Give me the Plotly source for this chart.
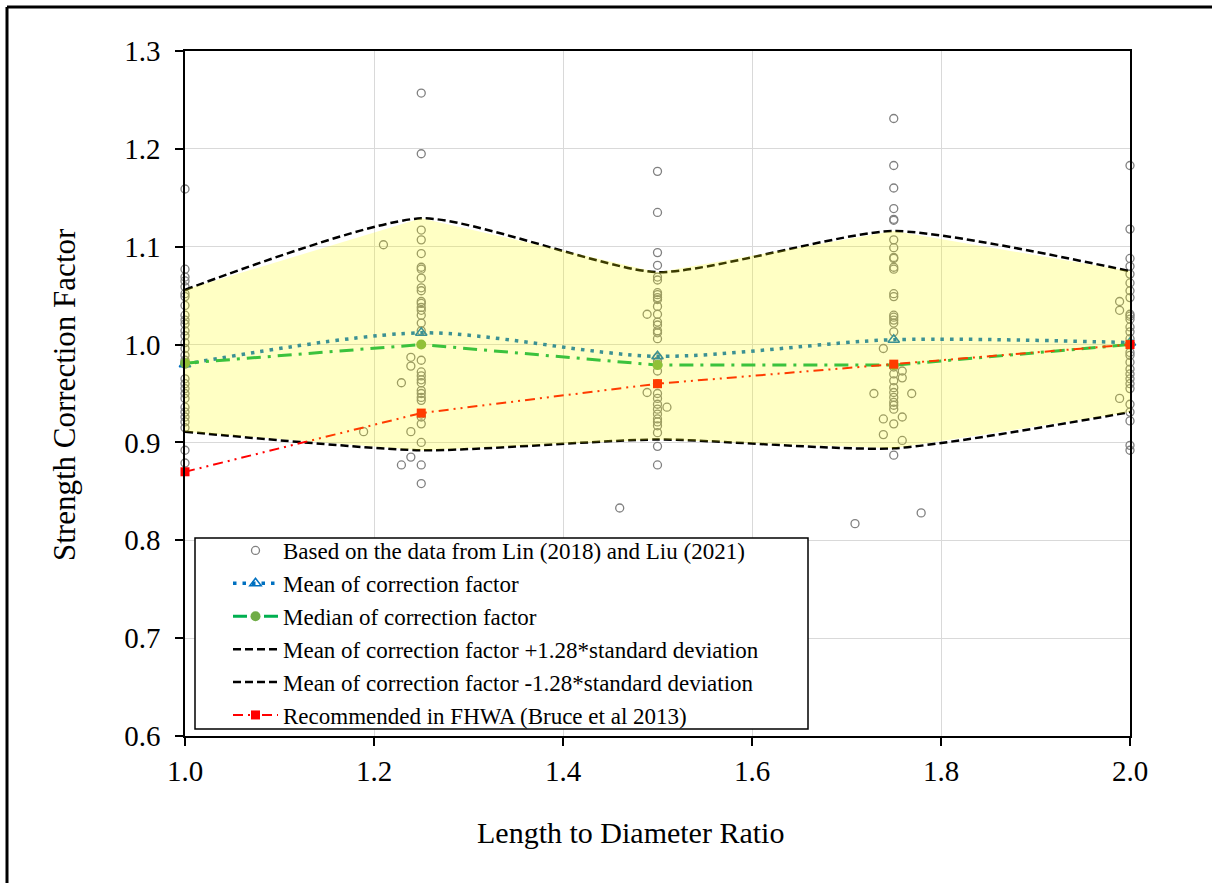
import plotly.graph_objects as go

# ---------------- data ----------------
ld_ratio = [1.0, 1.25, 1.5, 1.75, 2.0]

y_at_100 = [1.159, 1.077, 1.069, 1.065, 1.059, 1.052, 1.049, 1.040, 1.030, 1.025, 1.021, 1.014,
            1.009, 1.002, 0.996, 0.989, 0.984, 0.980, 0.965, 0.960, 0.955, 0.950, 0.945, 0.936,
            0.931, 0.926, 0.921, 0.915, 0.892, 0.879]
y_at_125 = [1.257, 1.195, 1.117, 1.107, 1.093, 1.079, 1.077, 1.068, 1.058, 1.055, 1.044, 1.042,
            1.038, 1.035, 1.030, 1.022, 1.014, 0.984, 0.972, 0.968, 0.964, 0.961, 0.953, 0.950,
            0.946, 0.943, 0.929, 0.926, 0.919, 0.900, 0.877, 0.858]
y_at_150 = [1.177, 1.135, 1.094, 1.081, 1.069, 1.066, 1.053, 1.051, 1.048, 1.046, 1.039, 1.031,
            1.023, 1.020, 1.014, 1.012, 1.006, 0.987, 0.983, 0.973, 0.960, 0.950, 0.945, 0.939,
            0.934, 0.929, 0.924, 0.921, 0.917, 0.910, 0.896, 0.877]
y_at_175 = [1.231, 1.183, 1.160, 1.139, 1.128, 1.127, 1.107, 1.099, 1.089, 1.088, 1.079, 1.077,
            1.052, 1.049, 1.030, 1.028, 1.025, 1.022, 1.013, 0.977, 0.970, 0.963, 0.956, 0.951,
            0.946, 0.941, 0.938, 0.934, 0.919, 0.887]
y_at_200 = [1.183, 1.118, 1.088, 1.080, 1.072, 1.063, 1.055, 1.048, 1.031, 1.029, 1.026, 1.018,
            1.013, 1.006, 1.001, 0.992, 0.989, 0.982, 0.975, 0.970, 0.965, 0.960, 0.955, 0.939,
            0.931, 0.922, 0.897, 0.892]

# points with other L/D values
other_x = [1.210, 1.189, 1.229, 1.229, 1.239, 1.239, 1.239, 1.239,
           1.489, 1.489, 1.510, 1.460,
           1.739, 1.739, 1.739, 1.759, 1.759, 1.759, 1.759, 1.729, 1.769, 1.709, 1.779,
           1.989, 1.989, 1.989]
other_y = [1.102, 0.911, 0.961, 0.877, 0.987, 0.978, 0.911, 0.885,
           1.031, 0.951, 0.936, 0.833,
           0.996, 0.924, 0.908, 0.973, 0.966, 0.926, 0.902, 0.950, 0.950, 0.817, 0.828,
           1.044, 1.035, 0.945]

mean_cf = [0.980, 1.012, 0.988, 1.005, 1.002]
median_cf = [0.981, 1.000, 0.979, 0.979, 1.000]
upper_cf = [1.056, 1.129, 1.074, 1.116, 1.075]
lower_cf = [0.911, 0.892, 0.903, 0.894, 0.931]
fhwa_cf = [0.87, 0.93, 0.96, 0.98, 1.00]

names = ["Based on the data from Lin (2018) and Liu (2021)",
         "Mean of correction factor",
         "Median of correction factor",
         "Mean of correction factor +1.28*standard deviation",
         "Mean of correction factor -1.28*standard deviation",
         "Recommended in FHWA (Bruce et al 2013)"]

x_ticks = [1.0, 1.2, 1.4, 1.6, 1.8, 2.0]
y_ticks = [0.6, 0.7, 0.8, 0.9, 1.0, 1.1, 1.2, 1.3]

# ---------------- build ----------------
scat_x, scat_y = [], []
for xv, ys in zip(ld_ratio, [y_at_100, y_at_125, y_at_150, y_at_175, y_at_200]):
    scat_x += [xv] * len(ys)
    scat_y += ys
scat_x += other_x
scat_y += other_y

FONT = "Times New Roman, Liberation Serif, serif"

fig = go.Figure()

fig.add_trace(go.Scatter(
    x=scat_x, y=scat_y, mode="markers", name=names[0],
    marker=dict(symbol="circle-open", size=8, color="#808080", line=dict(width=1.3, color="#808080")),
    cliponaxis=False))

fig.add_trace(go.Scatter(
    x=ld_ratio, y=mean_cf, mode="lines+markers", name=names[1],
    line=dict(color="#0070C0", width=3.5, dash="3.5px,6px", shape="spline", smoothing=0.8),
    marker=dict(symbol="triangle-up-open", size=10, color="#0070C0", line=dict(width=1.5, color="#0070C0")),
    cliponaxis=False))

fig.add_trace(go.Scatter(
    x=ld_ratio, y=median_cf, mode="lines+markers", name=names[2],
    line=dict(color="#00B050", width=3, dash="14px,7px,3px,7px"),
    marker=dict(symbol="circle", size=10, color="#70AD47"),
    cliponaxis=False))

fig.add_trace(go.Scatter(
    x=ld_ratio, y=upper_cf, mode="lines", name=names[3],
    line=dict(color="black", width=2.5, dash="8px,4px", shape="spline", smoothing=0.6),
    cliponaxis=False))

fig.add_trace(go.Scatter(
    x=ld_ratio, y=lower_cf, mode="lines", name=names[4],
    line=dict(color="black", width=2.5, dash="8px,4px", shape="spline", smoothing=0.6),
    cliponaxis=False))

fig.add_trace(go.Scatter(
    x=ld_ratio, y=fhwa_cf, mode="lines+markers", name=names[5],
    line=dict(color="#FF0000", width=2, dash="10px,5px,2px,5px,2px,5px"),
    marker=dict(symbol="square", size=9, color="#FF0000"),
    cliponaxis=False))

# translucent band on top of everything
fig.add_trace(go.Scatter(
    x=ld_ratio + ld_ratio[::-1], y=upper_cf + lower_cf[::-1],
    mode="lines", fill="toself", fillcolor="rgba(255,255,0,0.23)",
    line=dict(width=0, color="rgba(0,0,0,0)"), showlegend=False, hoverinfo="skip"))

L, R, T, B = 185, 1130, 51, 736
W, H = 1212, 883
pw, ph = R - L, B - T

def px(xp):
    return (xp - L) / pw

def py(yp):
    return (B - yp) / ph

axis_common = dict(
    showline=True, linecolor="black", linewidth=1.5, mirror=True,
    ticks="outside", ticklen=8, tickwidth=1.5, tickcolor="black",
    showgrid=True, gridcolor="#D9D9D9", gridwidth=1, zeroline=False,
    tickfont=dict(family=FONT, size=29, color="black"), tickformat=".1f")

fig.update_xaxes(range=[1.0, 2.0], tickvals=x_ticks, ticklabelstandoff=0, **axis_common)
fig.update_yaxes(range=[0.6, 1.3], tickvals=y_ticks, ticklabelstandoff=9, **axis_common)

shapes = [
    # outer frame (left and top)
    dict(type="line", xref="paper", yref="paper", x0=px(7), x1=px(7), y0=py(7), y1=py(W),
         line=dict(color="black", width=3)),
    dict(type="line", xref="paper", yref="paper", x0=px(7), x1=px(W + 20), y0=py(7), y1=py(7),
         line=dict(color="black", width=3)),
    # legend box
    dict(type="rect", xref="paper", yref="paper", x0=px(195), x1=px(808), y0=py(538), y1=py(729),
         line=dict(color="black", width=1.5), fillcolor="white", layer="above"),
]

annotations = [
    dict(text="Length to Diameter Ratio", xref="paper", yref="paper", x=px(630), y=py(832),
         showarrow=False, font=dict(family=FONT, size=30, color="black"), xanchor="center", yanchor="middle"),
    dict(text="Strength Correction Factor", xref="paper", yref="paper", x=px(64), y=py(395),
         showarrow=False, textangle=-90, font=dict(family=FONT, size=31, color="black"),
         xanchor="center", yanchor="middle"),
]

fig.update_layout(
    width=W, height=H,
    margin=dict(l=L, r=W - R, t=T, b=H - B, autoexpand=False),
    paper_bgcolor="white", plot_bgcolor="white",
    font=dict(family=FONT, color="black"),
    showlegend=True,
    legend=dict(x=px(228), y=py(529), xanchor="left", yanchor="top",
                bgcolor="rgba(0,0,0,0)", borderwidth=0, itemwidth=45,
                font=dict(family=FONT, size=23, color="black"), tracegroupgap=0),
    shapes=shapes, annotations=annotations,
)

fig.write_html("out.html")
